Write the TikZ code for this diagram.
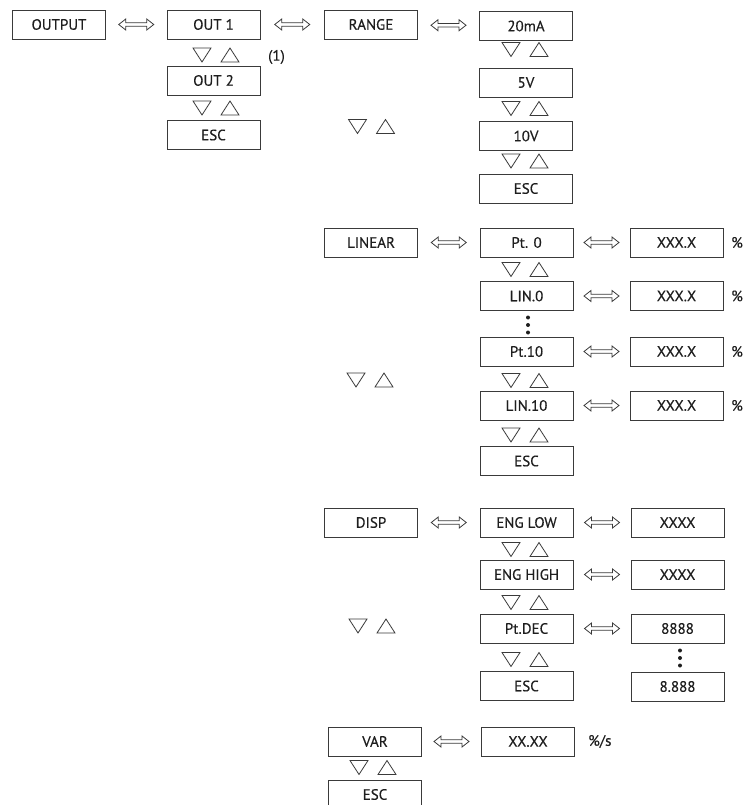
\documentclass[tikz,border=0pt]{standalone}
\usepackage{fontspec}
\setmainfont{PT Sans}[FakeBold=0.4]
\usetikzlibrary{calc}
\definecolor{inkline}{HTML}{3A3A3A}
\definecolor{inktext}{HTML}{1E1E1E}

\tikzset{
  menubox/.style={draw=inkline, line width=0.9pt, minimum width=93, minimum height=29,
    inner sep=0pt, text=inktext},
  dblarr/.style={draw=inkline, line width=0.8pt, to path={
    let \p1=(\tikztostart), \p2=(\tikztotarget), \p3=($(\p1)!0.5!(\p2)$) in
    (\x3-17.5pt,\y3) -- ++(7,-5.5) -- ++(0,3.8) -- ++(21,0) -- ++(0,-3.8)
    -- ++(7,5.5) -- ++(-7,5.5) -- ++(0,-3.8) -- ++(-21,0) -- ++(0,3.8) -- cycle}},
  updown/.pic={
    \draw[inkline, line width=0.8pt] (-23,-7) -- (-5,-7) -- (-14,7) -- cycle;
    \draw[inkline, line width=0.8pt] (5,7) -- (23,7) -- (14,-7) -- cycle;},
  plain/.style={text=inktext, inner sep=0pt}
}

\begin{document}
\begin{tikzpicture}[x=1pt, y=-1pt, font=\fontsize{15}{18}\selectfont]
  \useasboundingbox (0,0) rectangle (742,805);
  % output menu
  \node[menubox] (output) at (59,24.5) {OUTPUT};
  \node[menubox] (out1) at (213.5,24.5) {OUT 1};
  \node[menubox] (out2) at (213.5,80.5) {OUT 2};
  \node[menubox] (outesc) at (213.5,135) {ESC};
  \node[plain, anchor=west] (note) at (268,57) {(1)};
  \draw[dblarr] (output) to (out1);
  % range
  \node[menubox] (range) at (371,24.5) {RANGE};
  \foreach \nm/\lab/\y in {r20/20mA/26, r5/5V/82.5, r10/10V/136, resc/ESC/188.5}{%
    \node[menubox] (\nm) at (526,\y) {\lab};}
  \draw[dblarr] (out1) to (range);
  \draw[dblarr] (range) to (r20);
  % linear
  \node[menubox] (linear) at (371,242.5) {LINEAR};
  \foreach \nm/\lab/\y in {p0/Pt. 0/242.5, l0/LIN.0/296, p10/Pt.10/351.5, l10/LIN.10/405.5, lesc/ESC/461}{%
    \node[menubox] (\nm) at (526.5,\y) {\lab};}
  \foreach \nm/\y in {p0/242.5, l0/296, p10/351.5, l10/405.5}{%
    \node[menubox] (v\nm) at (676.5,\y) {XXX.X};
    \node[plain, anchor=west] (pc\nm) at (731,\y) {\%};
    \draw[dblarr] (\nm) to (v\nm);}
  \draw[dblarr] (linear) to (p0);
  % display
  \node[menubox] (disp) at (371,522.5) {DISP};
  \foreach \nm/\lab/\y in {elow/ENG LOW/522.5, ehigh/ENG HIGH/574.5, pdec/Pt.DEC/628.5, desc/ESC/686}{%
    \node[menubox] (\nm) at (526.5,\y) {\lab};}
  \node[menubox] (velow) at (677.5,522.5) {XXXX};
  \node[menubox] (vehigh) at (677.5,574.5) {XXXX};
  \node[menubox] (vpdec) at (677.5,628.5) {8888};
  \node[menubox] (vdec) at (677.5,686.5) {8.888};
  \foreach \nm in {elow,ehigh,pdec}{%
    \draw[dblarr] (\nm) to (v\nm);}
  \draw[dblarr] (disp) to (elow);
  % ramp
  \node[menubox] (var) at (375,741.5) {VAR};
  \node[menubox] (vesc) at (375,794.5) {ESC};
  \node[menubox] (vvar) at (528,741.5) {XX.XX};
  \node[plain, anchor=west] (unit) at (588,741.5) {\%/s};
  \draw[dblarr] (var) to (vvar);
  % up/down keys
  \foreach \px/\py in {216/55, 216/108, 525/49.5, 525/108.5, 525/161, 371.5/126.5,
      525/269.5, 525/380.5, 525/435, 370/380, 525/549.5, 525/602.5, 525/659.5,
      372/626, 373/767.5}{%
    \pic at (\px,\py) {updown};}
  % more entries
  \foreach \dy in {-7.5,0,7.5}{%
    \fill[inktext] (528,325+\dy) circle[radius=2pt];
    \fill[inktext] (680,658+\dy) circle[radius=2pt];}
\end{tikzpicture}
\end{document}
